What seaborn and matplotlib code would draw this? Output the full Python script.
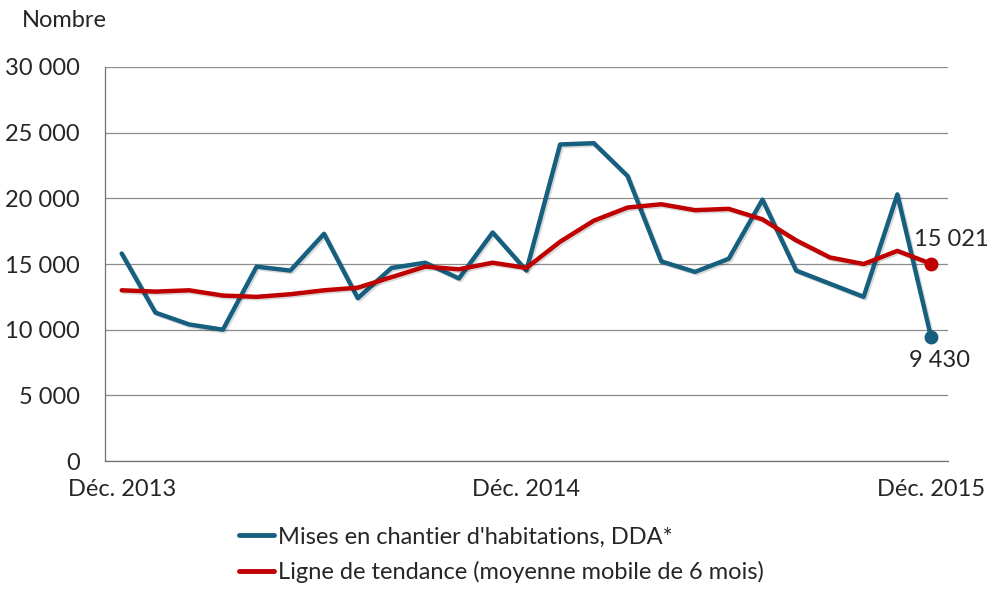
import pandas as pd
import matplotlib
matplotlib.use("Agg")
import matplotlib.pyplot as plt
import matplotlib.patheffects as pe
from matplotlib.ticker import FuncFormatter
import seaborn as sns

# Monthly values, Dec. 2013 -> Dec. 2015
months = list(range(25))
mises_chantier = [15800, 11300, 10400, 10000, 14800, 14500, 17300, 12400, 14700,
                  15100, 13900, 17400, 14500, 24100, 24200, 21700, 15200, 14400,
                  15400, 19900, 14500, 13500, 12500, 20300, 9430]
tendance = [13000, 12900, 13000, 12600, 12500, 12700, 13000, 13200, 14000,
            14800, 14600, 15100, 14700, 16700, 18300, 19300, 19550, 19100,
            19200, 18400, 16800, 15500, 15000, 16000, 15021]
tick_pos = [0, 12, 24]
tick_labels = ["Déc. 2013", "Déc. 2014", "Déc. 2015"]
serie_blue = "Mises en chantier d'habitations, DDA*"
serie_red = "Ligne de tendance (moyenne mobile de 6 mois)"

blue = "#175f7e"
red = "#c00000"
fs = 17

df = pd.DataFrame({
    "mois": months * 2,
    "valeur": mises_chantier + tendance,
    "serie": [serie_blue] * 25 + [serie_red] * 25,
})

sns.set_style("white")
plt.rcParams["font.family"] = ["Lato", "DejaVu Sans"]

fig = plt.figure(figsize=(9.89, 5.98), dpi=100)
ax = fig.add_axes([0.106, 0.229, 0.8525, 0.659])

shadow = [pe.SimpleLineShadow(offset=(1.2, -1.2), alpha=0.15, shadow_color="black"), pe.Normal()]
sns.lineplot(data=df, x="mois", y="valeur", hue="serie",
             palette={serie_blue: blue, serie_red: red},
             linewidth=3.2, ax=ax, legend=False, zorder=3)
for ln in ax.get_lines():
    ln.set_path_effects(shadow)
    ln.set_solid_joinstyle("round")

ax.plot(months[-1], mises_chantier[-1], "o", color=blue, ms=9, zorder=4)
ax.plot(months[-1], tendance[-1], "o", color=red, ms=9, zorder=4)

fmt = lambda v: f"{int(v):,}".replace(",", " ")
ax.annotate(fmt(tendance[-1]), (months[-1], tendance[-1]), xytext=(-12, 10),
            textcoords="offset points", fontsize=fs, ha="left", va="bottom")
ax.annotate(fmt(mises_chantier[-1]), (months[-1], mises_chantier[-1]), xytext=(6, -9),
            textcoords="offset points", fontsize=fs, ha="center", va="top")

ax.set_xlim(-0.5, 24.5)
ax.set_ylim(0, 30000)
ax.set_yticks(range(0, 30001, 5000))
ax.yaxis.set_major_formatter(FuncFormatter(lambda v, p: fmt(v)))
ax.set_xticks(tick_pos)
ax.set_xticklabels(tick_labels)
ax.set_xticks([i - 0.5 for i in range(26)], minor=True)
ax.tick_params(axis="x", which="major", length=0, pad=13, labelsize=fs)
ax.tick_params(axis="x", which="minor", length=6, width=0.8, color="#555555", direction="out")
ax.tick_params(axis="y", length=0, pad=18, labelsize=fs)
ax.set_xlabel("")
ax.set_ylabel("")

ax.grid(axis="y", color="#8c8c8c", linewidth=0.9)
ax.set_axisbelow(True)
for s in ["top", "right"]:
    ax.spines[s].set_visible(False)
for s in ["left", "bottom"]:
    ax.spines[s].set_color("#707070")
    ax.spines[s].set_linewidth(0.9)

fig.text(0.022, 0.965, "Nombre", fontsize=fs, ha="left", va="center")

handles = [plt.Line2D([], [], color=blue, lw=3.5), plt.Line2D([], [], color=red, lw=3.5)]
fig.legend(handles, [serie_blue, serie_red], loc="upper left", bbox_to_anchor=(0.232, 0.135),
           frameon=False, fontsize=fs, handlelength=1.5, handletextpad=0.15,
           labelspacing=0.55, borderaxespad=0)

fig.savefig("out.png", dpi=100)
